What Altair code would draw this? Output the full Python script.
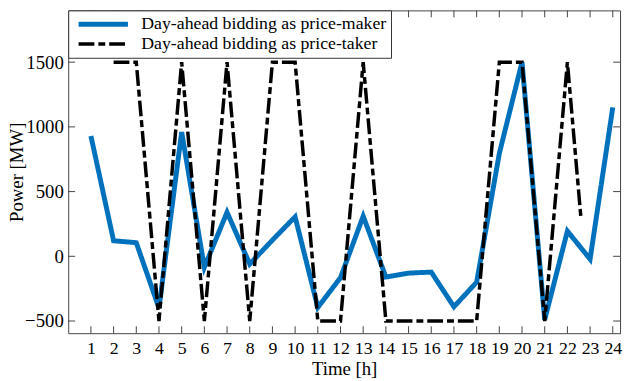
import altair as alt
import pandas as pd

# ---- data ----
hours = list(range(1, 25))
maker = [930, 120, 105, -400, 960, -85, 340, -60, 125, 305, -395, -165,
         310, -160, -130, -122, -390, -200, 795, 1500, -490, 195, -22, 1150]
taker_hours = list(range(2, 23)) + [22.6]
taker = [1500, 1500, -500, 1500, -500, 1500, -500, 1500, 1500, -500, -500,
         1500, -500, -500, -500, -500, -500, 1500, 1500, -500, 1500, 290]
series_names = ["Day-ahead bidding as price-maker", "Day-ahead bidding as price-taker"]
x_ticks = list(range(1, 25))
y_ticks = [-500, 0, 500, 1000, 1500]

df = pd.DataFrame(
    {"hour": hours + taker_hours,
     "power": maker + taker,
     "series": [series_names[0]] * len(hours) + [series_names[1]] * len(taker_hours)}
)
xt = pd.DataFrame({"hour": x_ticks})
yt = pd.DataFrame({"power": y_ticks})

W, H = 559, 327
FONT = "Liberation Serif"
TC = "#444444"
TL = 7

xs = alt.Scale(domain=[0, 24.32], nice=False, zero=False)
ys = alt.Scale(domain=[-594, 1900], nice=False, zero=False)

xaxis = alt.Axis(values=x_ticks, title="Time [h]", ticks=False, domain=False, grid=False,
                 labelPadding=7, titlePadding=2, labelFlush=False, labelFontSize=18,
                 labelOverlap=False, format="d")
yaxis = alt.Axis(values=y_ticks, title="Power [MW]", ticks=False, domain=False, grid=False,
                 labelPadding=5, titlePadding=-2, labelFlush=False, format="d")

leg = alt.Legend(
    orient="none", legendX=0, legendY=0, direction="vertical",
    fillColor="white", strokeColor="#333333", padding=4, cornerRadius=0,
    symbolType="stroke", symbolSize=2500, symbolStrokeWidth=4, symbolOffset=4,
    labelFont=FONT, labelFontSize=18, labelColor="black", labelOffset=11,
    labelLimit=400, clipHeight=20, rowPadding=0,
)

lines = alt.Chart(df).mark_line(strokeCap="butt", strokeJoin="miter").encode(
    x=alt.X("hour:Q", scale=xs, axis=xaxis),
    y=alt.Y("power:Q", scale=ys, axis=yaxis),
    color=alt.Color("series:N", title=None, legend=leg,
                    scale=alt.Scale(domain=series_names, range=["#0072BD", "#000000"])),
    strokeDash=alt.StrokeDash("series:N", title=None, legend=leg,
                              scale=alt.Scale(domain=series_names, range=[[1, 0], [16, 4, 7, 4]])),
    strokeWidth=alt.StrokeWidth("series:N", legend=None,
                                scale=alt.Scale(domain=series_names, range=[5, 3.5])),
    order="hour:Q",
)

bottom = alt.Chart(xt).mark_rule(color=TC, strokeWidth=1).encode(
    x=alt.X("hour:Q", scale=xs, axis=xaxis), y=alt.value(H), y2=alt.value(H - TL))
top = alt.Chart(xt).mark_rule(color=TC, strokeWidth=1).encode(
    x=alt.X("hour:Q", scale=xs, axis=xaxis), y=alt.value(0), y2=alt.value(TL))
left = alt.Chart(yt).mark_rule(color=TC, strokeWidth=1).encode(
    y=alt.Y("power:Q", scale=ys, axis=yaxis), x=alt.value(0), x2=alt.value(TL))
right = alt.Chart(yt).mark_rule(color=TC, strokeWidth=1).encode(
    y=alt.Y("power:Q", scale=ys, axis=yaxis), x=alt.value(W), x2=alt.value(W - TL))

chart = alt.layer(bottom, top, left, right, lines).properties(
    width=W, height=H,
    autosize=alt.AutoSizeParams(type="none"),
    padding={"left": 61, "top": 0, "right": 3, "bottom": 45},
).configure_view(
    stroke=TC, strokeWidth=1
).configure_axis(
    labelFont=FONT, labelFontSize=19, labelColor="black",
    titleFont=FONT, titleFontSize=19, titleColor="black", titleFontWeight="normal",
)

chart.save("out.html", embed_options={"renderer": "svg", "actions": False})
